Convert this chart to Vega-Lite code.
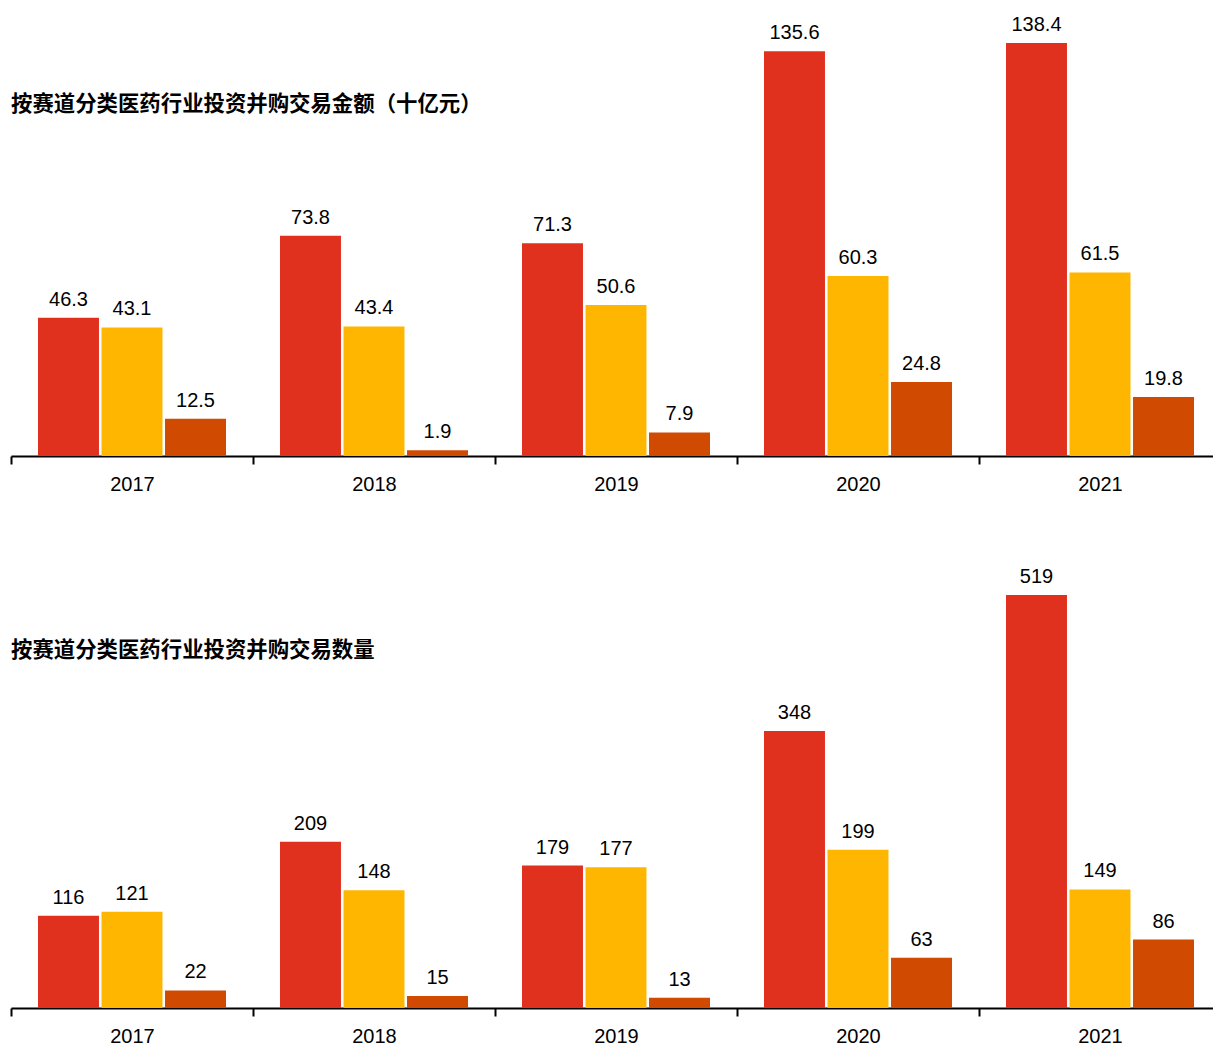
{
  "$schema": "https://vega.github.io/schema/vega-lite/v6.json",
  "padding": {"left": 10, "top": 0, "right": 0, "bottom": 0},
  "background": "white",
  "config": {"view": {"stroke": null}, "font": "Liberation Sans", "concat": {"spacing": 58}},
  "datasets": {
    "amount": [
      {"year": "2017", "series": "类别一", "value": 46.3},
      {"year": "2017", "series": "类别二", "value": 43.1},
      {"year": "2017", "series": "类别三", "value": 12.5},
      {"year": "2018", "series": "类别一", "value": 73.8},
      {"year": "2018", "series": "类别二", "value": 43.4},
      {"year": "2018", "series": "类别三", "value": 1.9},
      {"year": "2019", "series": "类别一", "value": 71.3},
      {"year": "2019", "series": "类别二", "value": 50.6},
      {"year": "2019", "series": "类别三", "value": 7.9},
      {"year": "2020", "series": "类别一", "value": 135.6},
      {"year": "2020", "series": "类别二", "value": 60.3},
      {"year": "2020", "series": "类别三", "value": 24.8},
      {"year": "2021", "series": "类别一", "value": 138.4},
      {"year": "2021", "series": "类别二", "value": 61.5},
      {"year": "2021", "series": "类别三", "value": 19.8}
    ],
    "count": [
      {"year": "2017", "series": "类别一", "value": 116},
      {"year": "2017", "series": "类别二", "value": 121},
      {"year": "2017", "series": "类别三", "value": 22},
      {"year": "2018", "series": "类别一", "value": 209},
      {"year": "2018", "series": "类别二", "value": 148},
      {"year": "2018", "series": "类别三", "value": 15},
      {"year": "2019", "series": "类别一", "value": 179},
      {"year": "2019", "series": "类别二", "value": 177},
      {"year": "2019", "series": "类别三", "value": 13},
      {"year": "2020", "series": "类别一", "value": 348},
      {"year": "2020", "series": "类别二", "value": 199},
      {"year": "2020", "series": "类别三", "value": 63},
      {"year": "2021", "series": "类别一", "value": 519},
      {"year": "2021", "series": "类别二", "value": 149},
      {"year": "2021", "series": "类别三", "value": 86}
    ]
  },
  "vconcat": [
    {
      "title": {"text": "按赛道分类医药行业投资并购交易金额（十亿元）", "anchor": "start", "frame": "group", "offset": -115, "font": "Noto Sans CJK SC", "fontSize": 21.4, "fontWeight": "bold", "color": "black"},
      "data": {"name": "amount"},
      "width": 1210,
      "height": 456,
      "encoding": {
        "x": {"field": "year", "type": "nominal", "scale": {"paddingInner": 0, "paddingOuter": 0},
          "axis": {"title": null, "labelAngle": 0, "tickBand": "extent", "domainColor": "black", "domainWidth": 2, "tickColor": "black", "tickWidth": 2, "tickSize": 8, "labelFontSize": 20, "labelColor": "black", "labelPadding": 10, "labelFont": "Liberation Sans"}},
        "xOffset": {"field": "series", "type": "nominal", "sort": ["类别一", "类别二", "类别三"], "scale": {"paddingInner": 0.04, "paddingOuter": 0.425}},
        "y": {"field": "value", "type": "quantitative", "scale": {"domain": [0, 152.8], "nice": false, "zero": true}, "axis": null}
      },
      "layer": [
        {"mark": {"type": "bar"},
         "encoding": {"color": {"field": "series", "type": "nominal", "sort": ["类别一", "类别二", "类别三"], "scale": {"domain": ["类别一", "类别二", "类别三"], "range": ["#E0301E", "#FFB600", "#D04A02"]}, "legend": null}}},
        {"mark": {"type": "text", "baseline": "alphabetic", "dy": -12, "fontSize": 20, "color": "black", "font": "Liberation Sans"},
         "encoding": {"text": {"field": "value", "type": "quantitative", "format": ".1f"}}}
      ]
    },
    {
      "title": {"text": "按赛道分类医药行业投资并购交易数量", "anchor": "start", "frame": "group", "offset": -109, "font": "Noto Sans CJK SC", "fontSize": 21.4, "fontWeight": "bold", "color": "black"},
      "data": {"name": "count"},
      "width": 1210,
      "height": 456,
      "encoding": {
        "x": {"field": "year", "type": "nominal", "scale": {"paddingInner": 0, "paddingOuter": 0},
          "axis": {"title": null, "labelAngle": 0, "tickBand": "extent", "domainColor": "black", "domainWidth": 2, "tickColor": "black", "tickWidth": 2, "tickSize": 8, "labelFontSize": 20, "labelColor": "black", "labelPadding": 10, "labelFont": "Liberation Sans"}},
        "xOffset": {"field": "series", "type": "nominal", "sort": ["类别一", "类别二", "类别三"], "scale": {"paddingInner": 0.04, "paddingOuter": 0.425}},
        "y": {"field": "value", "type": "quantitative", "scale": {"domain": [0, 573], "nice": false, "zero": true}, "axis": null}
      },
      "layer": [
        {"mark": {"type": "bar"},
         "encoding": {"color": {"field": "series", "type": "nominal", "sort": ["类别一", "类别二", "类别三"], "scale": {"domain": ["类别一", "类别二", "类别三"], "range": ["#E0301E", "#FFB600", "#D04A02"]}, "legend": null}}},
        {"mark": {"type": "text", "baseline": "alphabetic", "dy": -12, "fontSize": 20, "color": "black", "font": "Liberation Sans"},
         "encoding": {"text": {"field": "value", "type": "quantitative", "format": "d"}}}
      ]
    }
  ]
}
